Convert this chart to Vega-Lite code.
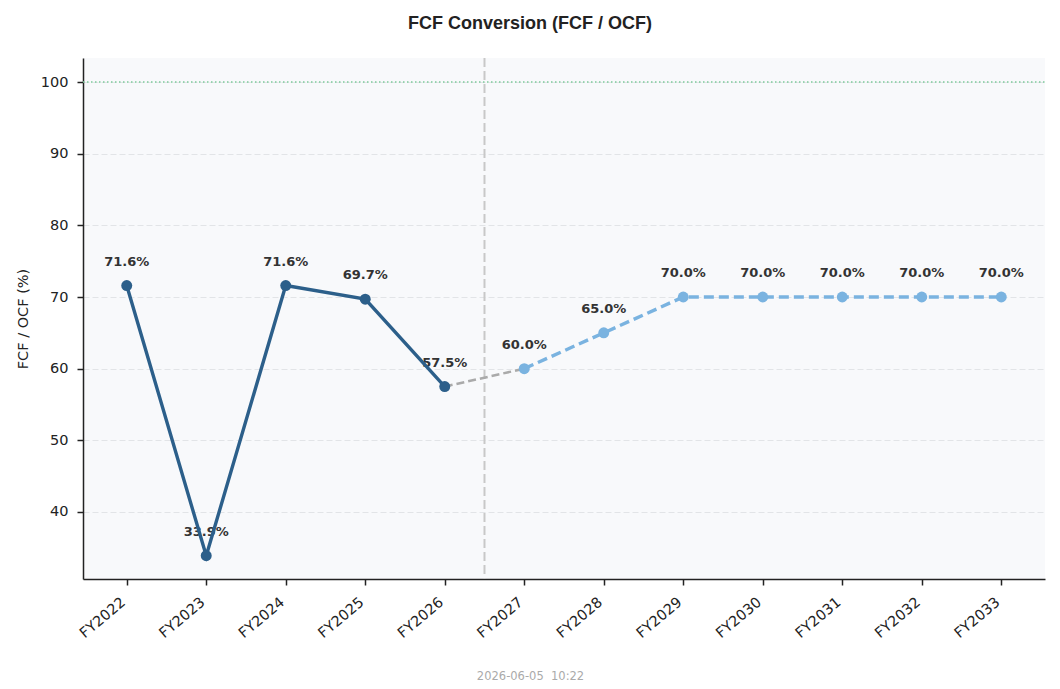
{
  "$schema": "https://vega.github.io/schema/vega-lite/v6.json",
  "autosize": "none",
  "width": 962,
  "height": 521,
  "padding": {"left": 83, "top": 58, "right": 15, "bottom": 110},
  "background": "white",
  "title": {
    "text": "FCF Conversion (FCF / OCF)",
    "font": "Liberation Sans",
    "fontSize": 18,
    "fontWeight": "bold",
    "color": "#222222",
    "anchor": "middle",
    "dx": -34,
    "offset": 24
  },
  "config": {
    "view": {"fill": "#f8f9fb", "stroke": null},
    "axis": {
      "labelFont": "DejaVu Sans",
      "titleFont": "DejaVu Sans",
      "labelColor": "#222222",
      "domainColor": "#222222",
      "tickColor": "#222222",
      "domainWidth": 1.5,
      "tickWidth": 1.5,
      "tickSize": 6,
      "labelFontSize": 14.5
    }
  },
  "datasets": {
    "hist": [
      {"year": 2022, "pct": 71.6},
      {"year": 2023, "pct": 33.9},
      {"year": 2024, "pct": 71.6},
      {"year": 2025, "pct": 69.7},
      {"year": 2026, "pct": 57.5}
    ],
    "fcst": [
      {"year": 2027, "pct": 60.0},
      {"year": 2028, "pct": 65.0},
      {"year": 2029, "pct": 70.0},
      {"year": 2030, "pct": 70.0},
      {"year": 2031, "pct": 70.0},
      {"year": 2032, "pct": 70.0},
      {"year": 2033, "pct": 70.0}
    ],
    "bridge": [
      {"year": 2026, "pct": 57.5},
      {"year": 2027, "pct": 60.0}
    ]
  },
  "encoding": {
    "x": {
      "field": "year",
      "type": "quantitative",
      "scale": {"domain": [2021.45, 2033.55], "nice": false, "zero": false},
      "axis": {
        "values": [2022, 2023, 2024, 2025, 2026, 2027, 2028, 2029, 2030, 2031, 2032, 2033],
        "labelExpr": "'FY' + datum.value",
        "labelAngle": -40,
        "labelAlign": "right",
        "labelBaseline": "top",
        "labelPadding": 10,
        "labelOffset": -8,
        "grid": false,
        "title": "2026-06-05 \u00a010:22",
        "titleFont": "DejaVu Sans",
        "titleFontSize": 11.5,
        "titleFontWeight": "normal",
        "titleColor": "#aaaaaa",
        "titleAlign": "center",
        "titleBaseline": "alphabetic",
        "titleX": 447,
        "titleY": 100
      }
    },
    "y": {
      "field": "pct",
      "type": "quantitative",
      "scale": {"domain": [30.65, 103.35], "nice": false, "zero": false},
      "axis": {
        "values": [40, 50, 60, 70, 80, 90, 100],
        "grid": true,
        "gridColor": "#e2e4e7",
        "gridDash": [6, 3],
        "gridWidth": 1,
        "labelPadding": 9,
        "title": "FCF / OCF (%)",
        "titleFontSize": 14.5,
        "titleFontWeight": "normal",
        "titleColor": "#222222",
        "titlePadding": 10
      }
    }
  },
  "layer": [
    {
      "data": {"values": [{"year": 2026.5}]},
      "mark": {"type": "rule", "color": "#c8c8c8", "strokeWidth": 2, "strokeDash": [9, 4]},
      "encoding": {"y": {"value": 0}, "y2": {"value": 521}}
    },
    {
      "data": {"values": [{"pct": 100}]},
      "mark": {"type": "rule", "color": "#7cc99a", "strokeWidth": 1.3, "strokeDash": [1.5, 2.5]},
      "encoding": {"x": {"value": 0}, "x2": {"value": 962}}
    },
    {
      "data": {"name": "hist"},
      "transform": [{"calculate": "format(datum.pct, '.1f') + '%'", "as": "lbl"}],
      "mark": {"type": "text", "dy": -24, "font": "DejaVu Sans", "fontSize": 13, "fontWeight": "bold", "color": "#333333"},
      "encoding": {"text": {"field": "lbl", "type": "nominal"}}
    },
    {
      "data": {"name": "fcst"},
      "transform": [{"calculate": "format(datum.pct, '.1f') + '%'", "as": "lbl"}],
      "mark": {"type": "text", "dy": -24, "font": "DejaVu Sans", "fontSize": 13, "fontWeight": "bold", "color": "#333333"},
      "encoding": {"text": {"field": "lbl", "type": "nominal"}}
    },
    {
      "data": {"name": "bridge"},
      "mark": {"type": "line", "color": "#aaaaaa", "strokeWidth": 2.5, "strokeDash": [8, 4]}
    },
    {
      "data": {"name": "hist"},
      "mark": {"type": "line", "color": "#2c5f8a", "strokeWidth": 3.4, "point": {"filled": true, "size": 120, "color": "#2c5f8a", "opacity": 1}}
    },
    {
      "data": {"name": "fcst"},
      "mark": {"type": "line", "color": "#7ab3e0", "strokeWidth": 3.4, "strokeDash": [10, 5], "point": {"filled": true, "size": 120, "color": "#7ab3e0", "opacity": 1}}
    }
  ]
}
